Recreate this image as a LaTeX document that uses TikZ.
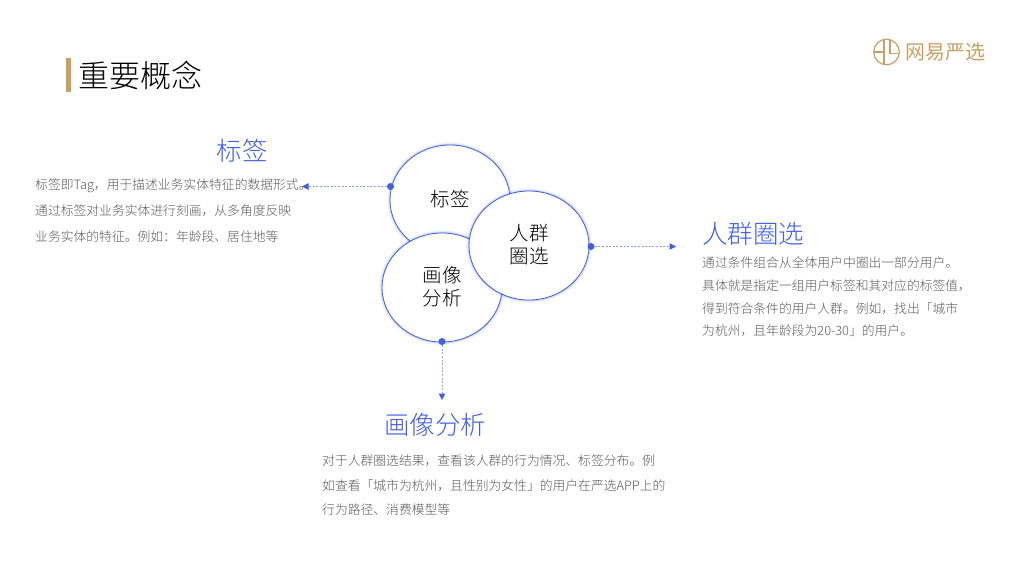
\documentclass[tikz,border=0pt]{standalone}
\usepackage{fontspec}
\setmainfont{Noto Sans CJK SC Light}
\newfontfamily\regfont{Noto Sans CJK SC}
\usetikzlibrary{arrows.meta}
\definecolor{brandgold}{HTML}{C9A063}
\definecolor{accent}{HTML}{3F5FE6}
\definecolor{bodygrey}{HTML}{5A5A5A}
\newcommand{\fsl}[2]{\fontsize{#1pt}{#2pt}\selectfont}
\tikzset{
  x=1pt,y=-1pt,
  heading/.style={anchor=center,text=accent,inner sep=0pt,font=\fsl{25.5}{30}},
  bodytext/.style={anchor=north west,text=bodygrey,inner sep=0pt,align=left},
  bubbletext/.style={anchor=center,text=black,inner sep=0pt,align=center},
  dot/.style={circle,fill=accent,inner sep=0pt,minimum size=7pt},
  link/.style={draw=accent!60,line width=1pt,dash pattern=on 2pt off 1.6pt,-{Triangle[length=6.5pt,width=6.5pt,fill=accent,color=accent]}},
  logoline/.style={draw=brandgold,line width=1.2pt}
}
\newcommand{\glowellipse}[4]{%
  \foreach \w/\o in {6/0.03,4.5/0.05,3/0.08,2/0.10}{
    \draw[accent,line width=\w pt,opacity=\o] (#1,#2) ellipse [x radius=#3,y radius=#4];
  }
  \filldraw[fill=white,draw=accent,line width=0.8pt] (#1,#2) ellipse [x radius=#3,y radius=#4];
}
\begin{document}
\begin{tikzpicture}
\useasboundingbox (0,0) rectangle (1024,576);
\fill[white] (0,0) rectangle (1024,576);
% title
\fill[brandgold] (66,58) rectangle (71,92);
\node[anchor=west,inner sep=0pt,text=black,font=\fsl{31}{36}] (title) at (78.5,75) {重要概念};
% logo
\draw[logoline] (886.5,52) circle [radius=12.8];
\draw[logoline] (874,52) -- (884,52) (884,39.5) -- (884,64.5);
\draw[logoline] (890,39.5) -- (890,53.5) -- (899,53.5);
\node[anchor=west,inner sep=0pt,text=brandgold,font=\regfont\fsl{20}{24}] (logotext) at (905,52) {网易严选};
% bubbles
\glowellipse{450}{200}{60}{55}
\glowellipse{442}{287.5}{60}{54.5}
\glowellipse{529}{245.5}{60}{54.5}
\node[bubbletext,font=\fsl{19.5}{23}] (tag) at (450,199) {标签};
\node[bubbletext,font=\fsl{19.5}{23}] (crowd) at (529,244.5) {人群\\圈选};
\node[bubbletext,font=\fsl{19.5}{23}] (portrait) at (442,286.5) {画像\\分析};
% dots and connectors
\node[dot] (d1) at (390.5,186.5) {};
\node[dot] (d2) at (591,246.5) {};
\node[dot] (d3) at (442,341.5) {};
\coordinate (e1) at (302,186.5);
\coordinate (e2) at (676,246.5);
\coordinate (e3) at (442,400);
\draw[link] (d1) -- (e1);
\draw[link] (d2) -- (e2);
\draw[link] (d3) -- (e3);
% headings
\node[heading] (h1) at (242,150.5) {标签};
\node[heading] (h2) at (753,233.5) {人群圈选};
\node[heading] (h3) at (435,425) {画像分析};
% bodies
\node[bodytext,font=\fsl{12.8}{26}] (b1) at (35,178.5) {标签即Tag，用于描述业务实体特征的数据形式。\\通过标签对业务实体进行刻画，从多角度反映\\业务实体的特征。例如：年龄段、居住地等};
\node[bodytext,font=\fsl{12.8}{22.8}] (b2) at (702,256.5) {通过条件组合从全体用户中圈出一部分用户。\\具体就是指定一组用户标签和其对应的标签值，\\得到符合条件的用户人群。例如，找出「城市\\为杭州，且年龄段为20-30」的用户。};
\node[bodytext,font=\fsl{12.8}{24.6}] (b3) at (322,454.5) {对于人群圈选结果，查看该人群的行为情况、标签分布。例\\如查看「城市为杭州，且性别为女性」的用户在严选APP上的\\行为路径、消费模型等};
\end{tikzpicture}
\end{document}
